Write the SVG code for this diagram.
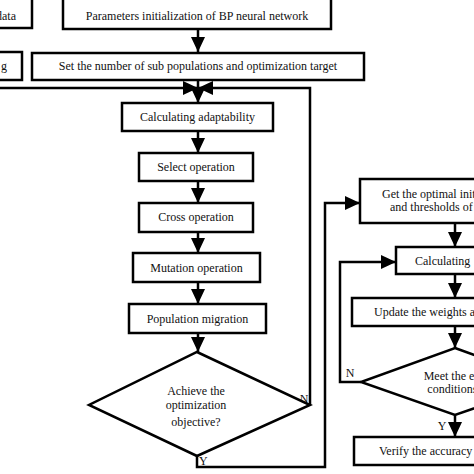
<svg xmlns="http://www.w3.org/2000/svg" width="474" height="474" viewBox="0 0 474 474">
<style>
.b{fill:#fff;stroke:#000;stroke-width:2.5}
.c{fill:none;stroke:#000;stroke-width:2.5}
text{font-family:"Liberation Serif","Times New Roman",serif;font-size:12px;fill:#111}
.m{text-anchor:middle}
</style>
<defs>
<marker id="ah" markerUnits="userSpaceOnUse" markerWidth="16" markerHeight="14" refX="15" refY="7" orient="auto">
<path d="M0,0 L15,7 L0,14 z" fill="#000"/>
</marker>
</defs>
<rect width="474" height="474" fill="#fff"/>
<g id="connectors">
<path class="c" d="M198,29 V52" marker-end="url(#ah)"/>
<path class="c" d="M198,80 V103" marker-end="url(#ah)"/>
<path class="c" d="M0,88 H198" marker-end="url(#ah)"/>
<path class="c" d="M310,405 V88 H198" marker-end="url(#ah)"/>
<path class="c" d="M198,131 V153" marker-end="url(#ah)"/>
<path class="c" d="M198,181 V203" marker-end="url(#ah)"/>
<path class="c" d="M198,232 V253" marker-end="url(#ah)"/>
<path class="c" d="M198,282 V304" marker-end="url(#ah)"/>
<path class="c" d="M198,333 V352" marker-end="url(#ah)"/>
<path class="c" d="M197,456 V467 H325 V203 H360" marker-end="url(#ah)"/>
<path class="c" d="M455,223 V247" marker-end="url(#ah)"/>
<path class="c" d="M455,274 V298" marker-end="url(#ah)"/>
<path class="c" d="M455,326 V348" marker-end="url(#ah)"/>
<path class="c" d="M361,382 H340 V262 H396" marker-end="url(#ah)"/>
<path class="c" d="M455,415 V437" marker-end="url(#ah)"/>
<text x="304" y="403" class="m">N</text>
<text x="199" y="465">Y</text>
<text x="350" y="377" class="m">N</text>
<text x="442" y="430" class="m">Y</text>
</g>
<g id="n-data"><rect class="b" x="-10" y="-3" width="42" height="31"/><text x="16" y="20" text-anchor="end">data</text></g>
<g id="n-params"><rect class="b" x="63" y="-3" width="268" height="32"/><text x="197" y="20" class="m">Parameters initialization of BP neural network</text></g>
<g id="n-g"><rect class="b" x="-10" y="52" width="32" height="28"/><text x="7" y="70" text-anchor="end">g</text></g>
<g id="n-setnum"><rect class="b" x="32" y="53" width="332" height="27"/><text x="198" y="70" class="m">Set the number of sub populations and optimization target</text></g>
<g id="n-adapt"><rect class="b" x="122" y="103" width="151" height="28"/><text x="197.5" y="121" class="m">Calculating adaptability</text></g>
<g id="n-select"><rect class="b" x="139" y="153" width="114" height="28"/><text x="196" y="171" class="m">Select operation</text></g>
<g id="n-cross"><rect class="b" x="139" y="203" width="114" height="29"/><text x="196" y="221" class="m">Cross operation</text></g>
<g id="n-mutation"><rect class="b" x="133" y="253" width="127" height="29"/><text x="196.5" y="272" class="m">Mutation operation</text></g>
<g id="n-migration"><rect class="b" x="129" y="304" width="137" height="29"/><text x="197.5" y="323" class="m">Population migration</text></g>
<g id="n-achieve"><path class="b" d="M197,352 L310,405 L197,456 L89,405 Z"/>
<text x="196" y="395" class="m">Achieve the</text>
<text x="196" y="408.5" class="m">optimization</text>
<text x="196" y="426" class="m">objective?</text></g>
<g id="n-optimal"><rect class="b" x="360" y="179" width="130" height="44"/>
<text x="382" y="198">Get the optimal initial</text>
<text x="390" y="211">and thresholds of</text></g>
<g id="n-calc"><rect class="b" x="396" y="247" width="90" height="27"/><text x="415" y="265">Calculating</text></g>
<g id="n-update"><rect class="b" x="352" y="298" width="134" height="28"/><text x="374" y="316">Update the weights and</text></g>
<g id="n-meet"><path class="b" d="M455,348 L549,382 L455,415 L361,382 Z"/>
<text x="455" y="380" class="m">Meet the end</text>
<text x="455" y="393" class="m">conditions?</text></g>
<g id="n-verify"><rect class="b" x="354" y="437" width="132" height="28"/><text x="379" y="455">Verify the accuracy</text></g>
</svg>
